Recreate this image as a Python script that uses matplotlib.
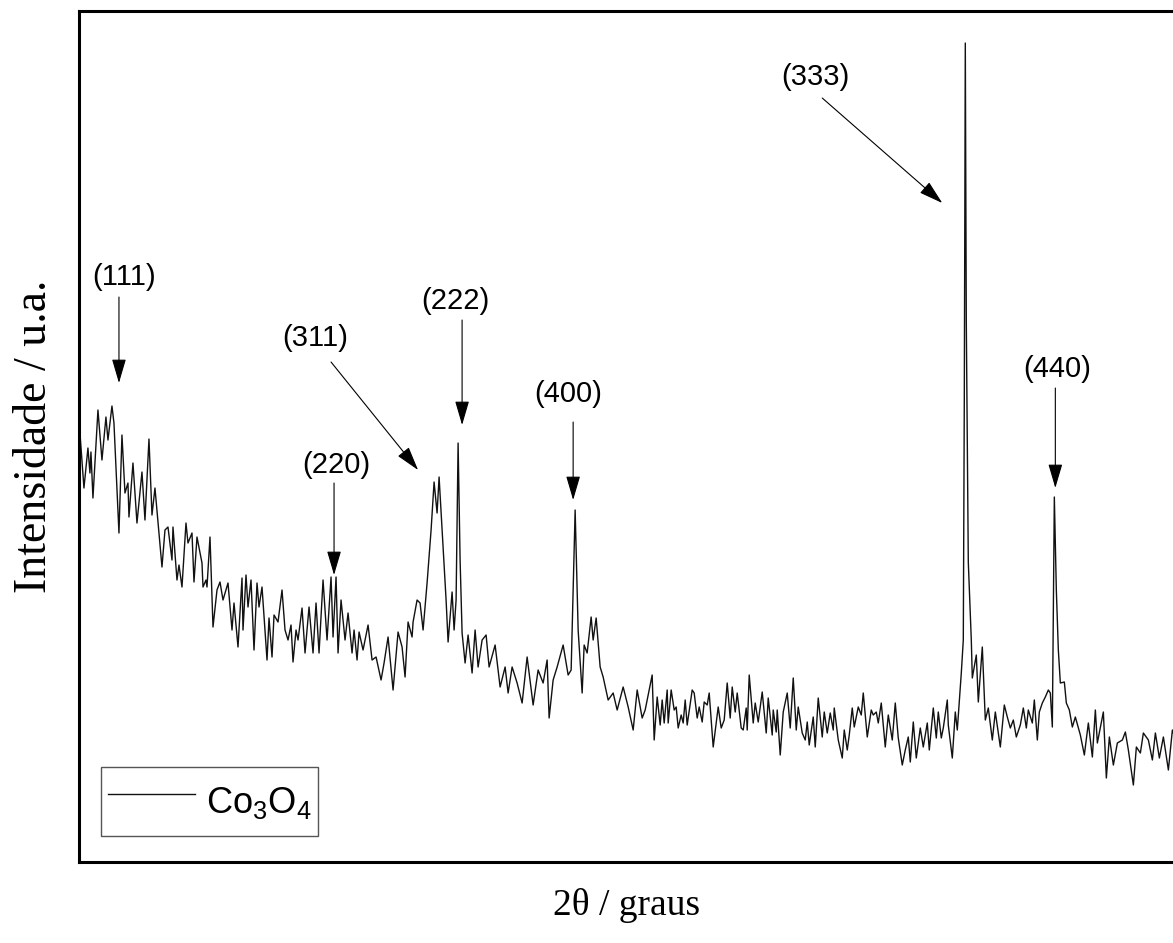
import numpy as np
import matplotlib.pyplot as plt

# Difratograma de raios X do Co3O4 (intensidade em unidades arbitrárias)
two_theta = [
    10.06, 10.30, 10.54, 10.66, 10.72, 10.84, 11.14, 11.38, 11.62, 11.74,
    11.98, 12.10, 12.40, 12.58, 12.76, 12.94, 13.00, 13.24, 13.48, 13.78,
    13.96, 14.20, 14.38, 14.56, 14.98, 15.16, 15.34, 15.58, 15.64, 15.88,
    16.00, 16.18, 16.42, 16.54, 16.78, 16.90, 17.08, 17.38, 17.44, 17.62,
    17.68, 17.86, 18.04, 18.28, 18.46, 18.64, 18.94, 19.18, 19.30, 19.54,
    19.78, 19.84, 20.02, 20.14, 20.32, 20.50, 20.68, 20.80, 20.98, 21.28,
    21.40, 21.58, 21.70, 21.94, 22.18, 22.36, 22.54, 22.72, 22.84, 23.02,
    23.14, 23.38, 23.56, 23.80, 24.04, 24.22, 24.40, 24.64, 24.88, 25.12,
    25.24, 25.42, 25.54, 25.72, 25.96, 26.14, 26.38, 26.50, 26.68, 26.80,
    27.04, 27.34, 27.58, 27.82, 28.12, 28.30, 28.54, 28.84, 29.14, 29.38,
    29.56, 29.74, 29.98, 30.04, 30.28, 30.46, 30.64, 30.88, 31.12, 31.30,
    31.48, 31.60, 31.84, 32.02, 32.14, 32.38, 32.50, 32.62, 32.74, 32.86,
    32.98, 33.16, 33.34, 33.58, 33.76, 33.94, 34.18, 34.42, 34.60, 34.96,
    35.26, 35.56, 35.74, 35.98, 36.28, 36.58, 36.88, 37.24, 37.54, 37.84,
    38.08, 38.20, 38.44, 38.68, 39.04, 39.34, 39.52, 39.76, 39.94, 40.18,
    40.30, 40.48, 40.72, 40.84, 41.02, 41.26, 41.44, 41.74, 42.04, 42.28,
    42.64, 42.94, 43.24, 43.48, 43.78, 43.96, 44.38, 44.50, 44.68, 44.86,
    44.98, 45.10, 45.28, 45.34, 45.52, 45.70, 45.82, 45.94, 46.12, 46.24,
    46.36, 46.48, 46.78, 46.90, 47.08, 47.20, 47.38, 47.50, 47.68, 47.80,
    48.04, 48.34, 48.52, 48.70, 48.88, 49.06, 49.18, 49.36, 49.48, 49.72,
    49.84, 50.02, 50.08, 50.20, 50.44, 50.56, 50.74, 50.98, 51.22, 51.34,
    51.58, 51.64, 51.82, 51.88, 52.06, 52.24, 52.48, 52.66, 52.84, 53.02,
    53.14, 53.38, 53.56, 53.68, 53.80, 54.04, 54.16, 54.34, 54.58, 54.70,
    54.88, 55.06, 55.24, 55.30, 55.54, 55.78, 55.90, 56.08, 56.20, 56.38,
    56.50, 56.74, 56.92, 57.04, 57.28, 57.52, 57.64, 57.82, 57.94, 58.12,
    58.36, 58.54, 58.78, 58.96, 59.14, 59.38, 59.56, 59.74, 59.86, 60.04,
    60.22, 60.46, 60.64, 60.88, 61.00, 61.24, 61.42, 61.54, 61.72, 61.84,
    62.08, 62.14, 62.38, 62.56, 62.68, 62.92, 63.04, 63.10, 63.16, 63.22,
    63.34, 63.52, 63.58, 63.82, 63.94, 64.18, 64.36, 64.54, 64.78, 64.96,
    65.26, 65.50, 65.68, 65.86, 66.04, 66.22, 66.46, 66.64, 66.82, 66.94,
    67.18, 67.30, 67.48, 67.60, 67.78, 67.96, 68.14, 68.26, 68.38, 68.50,
    68.62, 68.74, 68.86, 69.10, 69.22, 69.40, 69.58, 69.76, 70.06, 70.30,
    70.54, 70.78, 70.96, 71.08, 71.44, 71.62, 71.80, 72.04, 72.28, 72.58,
    72.76, 72.94, 73.24, 73.42, 73.66, 73.84, 74.14, 74.38, 74.56, 74.80,
    75.04, 75.34, 75.58, 75.88,
]
intensity = [
    429, 374, 414, 389, 410, 364, 452, 402, 445, 422,
    456, 439, 329, 427, 369, 379, 345, 399, 339, 390,
    342, 423, 347, 374, 295, 332, 335, 302, 335, 282,
    297, 275, 339, 319, 329, 280, 325, 299, 275, 282,
    275, 325, 235, 272, 280, 262, 279, 232, 259, 215,
    284, 232, 287, 255, 282, 212, 279, 255, 275, 202,
    244, 205, 247, 240, 272, 232, 222, 237, 200, 232,
    222, 254, 209, 255, 209, 259, 209, 282, 222, 285,
    225, 285, 209, 262, 222, 249, 209, 232, 202, 230,
    212, 237, 202, 205, 182, 199, 225, 172, 230, 215,
    185, 240, 225, 240, 262, 259, 232, 279, 332, 380,
    349, 385, 315, 262, 220, 270, 232, 262, 419, 302,
    229, 199, 227, 189, 232, 195, 222, 227, 195, 217,
    175, 195, 169, 195, 179, 159, 205, 157, 192, 179,
    202, 144, 182, 195, 217, 187, 192, 352, 232, 169,
    217, 209, 245, 222, 244, 195, 185, 162, 169, 152,
    175, 155, 132, 172, 144, 152, 187, 122, 165, 137,
    162, 139, 172, 139, 172, 152, 155, 134, 147, 139,
    162, 137, 172, 169, 144, 155, 140, 160, 157, 169,
    115, 155, 134, 142, 179, 144, 175, 150, 169, 134,
    132, 154, 132, 187, 139, 159, 140, 170, 129, 164,
    127, 152, 130, 152, 107, 150, 169, 134, 184, 132,
    155, 129, 122, 140, 117, 145, 115, 164, 125, 150,
    129, 149, 132, 154, 122, 104, 132, 112, 127, 154,
    135, 155, 147, 169, 125, 152, 147, 150, 139, 159,
    115, 147, 122, 159, 124, 97, 112, 125, 100, 140,
    104, 134, 115, 139, 112, 154, 124, 150, 124, 134,
    162, 137, 104, 150, 132, 189, 222, 462, 819, 540,
    300, 222, 184, 207, 160, 215, 142, 154, 122, 150,
    115, 157, 145, 134, 142, 125, 137, 154, 134, 152,
    139, 162, 122, 150, 159, 165, 172, 169, 135, 365,
    272, 212, 179, 180, 159, 152, 135, 145, 127, 107,
    139, 105, 152, 119, 150, 84, 125, 97, 119, 122,
    130, 112, 77, 115, 109, 129, 122, 102, 129, 104,
    125, 92, 132, 117,
]

# Planos indexados: rótulo, ponta da seta (2θ, I), início da seta, posição do texto
planes = ['(111)', '(220)', '(311)', '(222)', '(400)', '(333)', '(440)']
arrow_tip = [(12.40, 479), (25.30, 287), (30.34, 392), (32.98, 437),
             (39.64, 362), (61.78, 659), (68.56, 374)]
arrow_tail = [(12.40, 565), (25.30, 379), (25.12, 500), (32.98, 542),
              (39.64, 440), (54.58, 764), (68.56, 474)]
label_pos = [(12.70, 585), (25.42, 397), (24.16, 524), (32.56, 561),
             (39.34, 468), (54.16, 785), (68.68, 493)]

plt.rcParams['mathtext.fontset'] = 'custom'
plt.rcParams['mathtext.rm'] = 'Liberation Sans'

fig = plt.figure(figsize=(11.73, 9.43), dpi=100)
ax = fig.add_axes([0.0673, 0.0859, 0.995, 0.9024])

ax.plot(two_theta, intensity, color='#111111', lw=1.0,
        label=r'Co$_\mathregular{3}$O$_\mathregular{4}$')

for lab, tip, tail, pos in zip(planes, arrow_tip, arrow_tail, label_pos):
    ax.annotate('', xy=tip, xytext=tail,
                arrowprops=dict(arrowstyle='-|>,head_length=0.75,head_width=0.22',
                                mutation_scale=20, lw=0.8, color='black',
                                shrinkA=0, shrinkB=0))
    ax.text(pos[0], pos[1], lab, ha='center', va='center',
            fontsize=21, family='Liberation Sans')

ax.set_xlim(10, 80)
ax.set_ylim(0, 851)
ax.set_xticks([])
ax.set_yticks([])
for sp in ax.spines.values():
    sp.set_linewidth(2.2)

leg = ax.legend(loc='lower left', bbox_to_anchor=(0.019, 0.03), borderaxespad=0,
                fancybox=False, edgecolor='#555555', framealpha=1,
                prop={'family': 'Liberation Sans', 'size': 26},
                handlelength=2.4, handleheight=1.95, handletextpad=0.3,
                borderpad=0.2)
leg.get_frame().set_linewidth(1.0)

fig.text(0.534, 0.04, '2θ / graus', ha='center', va='center',
         family='Liberation Serif', fontsize=27)
fig.text(0.03, 0.537, 'Intensidade / u.a.', ha='center', va='center',
         rotation=90, family='Liberation Serif', fontsize=33)

fig.savefig('out.png', dpi=100)
